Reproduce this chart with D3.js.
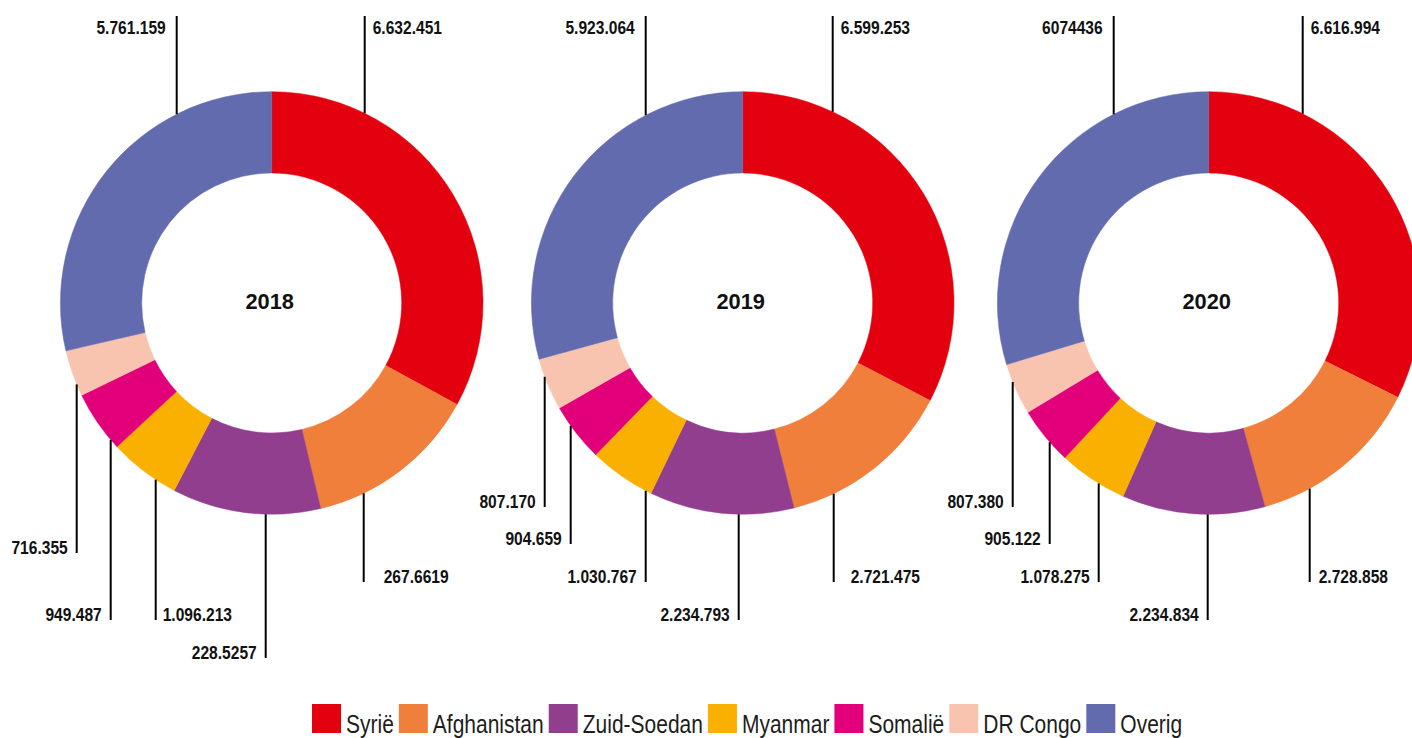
<!DOCTYPE html>
<html>
<head>
<meta charset="utf-8">
<script src="https://cdn.jsdelivr.net/npm/d3@7"></script>
<style>
  html, body { margin: 0; padding: 0; background: #fff; }
  svg { display: block; }
</style>
</head>
<body>
<div class="chart-wrapper"></div>
<script>
// categories + colours
const categories = ['Syrië', 'Afghanistan', 'Zuid-Soedan', 'Myanmar', 'Somalië', 'DR Congo', 'Overig']
const colors = ['#e3000f', '#f07f3c', '#923e8f', '#f9b000', '#e2007a', '#f8c4af', '#636baf']

const years = ['2018', '2019', '2020']

// values per year, same order as categories
const values2018 = [6632451, 2676619, 2285257, 1096213, 949487, 716355, 5761159]
const values2019 = [6599253, 2721475, 2234793, 1030767, 904659, 807170, 5923064]
const values2020 = [6616994, 2728858, 2234834, 1078275, 905122, 807380, 6074436]

// labels as printed in the source graphic
const labels2018 = ['6.632.451', '267.6619', '228.5257', '1.096.213', '949.487', '716.355', '5.761.159']
const labels2019 = ['6.599.253', '2.721.475', '2.234.793', '1.030.767', '904.659', '807.170', '5.923.064']
const labels2020 = ['6.616.994', '2.728.858', '2.234.834', '1.078.275', '905.122', '807.380', '6074436']

const allValues = [values2018, values2019, values2020]
const allLabels = [labels2018, labels2019, labels2020]

// layout of the leader lines (x offset from centre, end y, text side, text gap)
const leaders = [
  [{dx: 93, y: 16, side: 'top-right'}, {dx: 92, y: 582, side: 'right', gap: 20}, {dx: -6, y: 658, side: 'left'},
   {dx: -116, y: 620, side: 'right', gap: 7}, {dx: -161, y: 620, side: 'left'}, {dx: -195, y: 553, side: 'left'}, {dx: -95, y: 16, side: 'top-left'}],
  [{dx: 90, y: 16, side: 'top-right'}, {dx: 91, y: 582, side: 'right', gap: 17}, {dx: -4, y: 620, side: 'left'},
   {dx: -97, y: 582, side: 'left'}, {dx: -172, y: 544, side: 'left'}, {dx: -198, y: 507, side: 'left'}, {dx: -97, y: 16, side: 'top-left'}],
  [{dx: 94, y: 16, side: 'top-right'}, {dx: 101, y: 582, side: 'right', gap: 9}, {dx: -1, y: 620, side: 'left'},
   {dx: -110, y: 582, side: 'left'}, {dx: -159, y: 544, side: 'left'}, {dx: -196, y: 507, side: 'left'}, {dx: -95, y: 16, side: 'top-left'}]
]

const width = 1412
const height = 738
const centersX = [271.7, 742.7, 1208.7]
const cy = 303
const outerR = 211.3
const innerR = 130

// no narrow font installed -> squeeze Liberation Sans horizontally
const font = '"Liberation Sans", Arial, sans-serif'
const squeeze = 0.82

const svg = d3.select('.chart-wrapper').append('svg')
  .attr('width', width)
  .attr('height', height)

const color = d3.scaleOrdinal().domain(categories).range(colors)

const pie = d3.pie().sort(null).value(d => d.value)
const arc = d3.arc().innerRadius(innerR).outerRadius(outerR)

const narrowText = (parent, x, y, sx) => parent.append('text')
  .attr('transform', `translate(${x},${y}) scale(${sx},1)`)
  .attr('font-family', font)

years.forEach((year, yi) => {
  const data = categories.map((c, i) => ({cat: c, value: allValues[yi][i], label: allLabels[yi][i]}))
  const cx = centersX[yi]
  const g = svg.append('g').attr('transform', `translate(${cx},${cy})`)

  g.selectAll('path.slice')
    .data(pie(data))
    .join('path')
    .attr('class', 'slice')
    .attr('d', arc)
    .attr('fill', d => color(d.data.cat))
    .attr('stroke', d => color(d.data.cat))
    .attr('stroke-width', 0.5)

  narrowText(g, -2, 309 - cy, 0.97)
    .attr('text-anchor', 'middle')
    .attr('font-weight', 'bold')
    .attr('font-size', 22.5)
    .attr('fill', '#111')
    .text(year)

  // leader lines + value labels
  data.forEach((d, i) => {
    const L = leaders[yi][i]
    const x = L.dx
    const edgeY = Math.sqrt(outerR * outerR - x * x)
    const top = L.side.startsWith('top')
    const y1 = top ? -edgeY : edgeY
    const y2 = L.y - cy

    g.append('line')
      .attr('x1', x).attr('x2', x)
      .attr('y1', y1).attr('y2', y2)
      .attr('stroke', '#000')
      .attr('stroke-width', 2)

    const gap = L.gap || 9
    const right = L.side.endsWith('right')
    narrowText(g, right ? x + (top ? 8 : gap) : x - (top ? 11 : gap), top ? 34 - cy : y2 + 1, squeeze)
      .attr('text-anchor', right ? 'start' : 'end')
      .attr('font-weight', 'bold')
      .attr('font-size', 19)
      .attr('fill', '#111')
      .text(d.label)
  })
})

// legend
const legend = svg.append('g').attr('transform', 'translate(312,733)')
let lx = 0
categories.forEach(c => {
  legend.append('rect')
    .attr('x', lx).attr('y', -29)
    .attr('width', 29).attr('height', 29)
    .attr('fill', color(c))
  const t = narrowText(legend, lx + 34, 0, 0.84)
    .attr('font-size', 25)
    .attr('fill', '#1d1d1b')
    .text(c)
  lx += 34 + t.node().getComputedTextLength() * 0.84 + 5
})
</script>
</body>
</html>
